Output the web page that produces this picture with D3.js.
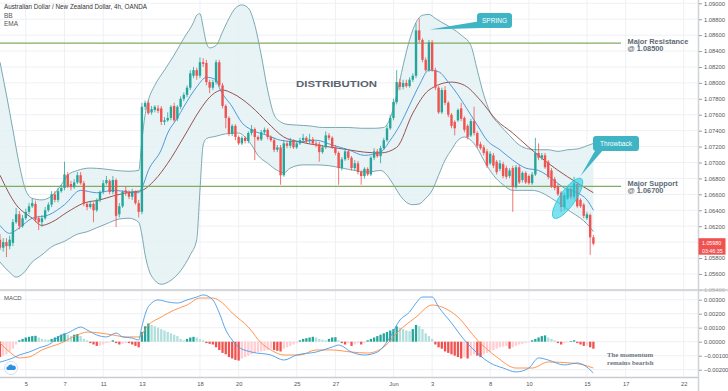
<!DOCTYPE html>
<html><head><meta charset="utf-8">
<script src="https://cdn.jsdelivr.net/npm/d3@7"></script>
<style>body{margin:0;background:#fff}svg{display:block}</style>
</head><body><svg id="c" width="728" height="391"></svg>
<script>
// ---------------- DATA ----------------
const title = "Australian Dollar / New Zealand Dollar, 4h, OANDA";
const xTickIdx = [8,20,32,44,62,74,92,104,122,134,152,164,182,194,212];
const xTickLabels = ["5","7","11","13","18","20","25","27","Jun","3","8","10","15","17","22"];
const priceTicks = [1.090,1.088,1.086,1.084,1.082,1.080,1.078,1.076,1.074,1.072,1.070,1.068,1.066,1.064,1.062,1.060,1.058,1.056,1.054];
const macdTicks = [0.003,0.002,0.001,0,-0.001,-0.002];
const resistance = 1.0850, support = 1.0670;
const lastPrice = 1.0598, countdown = "03:46:35";
// [open, high, low, close]
const candles = [
[1.0603,1.0610,1.0590,1.0593],[1.0593,1.0605,1.0588,1.0600],[1.0600,1.0605,1.0581,1.0595],[1.0595,1.0608,1.0591,1.0603],
[1.0599,1.0629,1.0595,1.0625],[1.0625,1.0643,1.0623,1.0635],[1.0635,1.0639,1.0616,1.0620],[1.0620,1.0634,1.0618,1.0630],
[1.0630,1.0642,1.0628,1.0638],[1.0638,1.0649,1.0635,1.0645],[1.0645,1.0655,1.0643,1.0649],[1.0648,1.0652,1.0625,1.0628],
[1.0630,1.0633,1.0615,1.0625],[1.0625,1.0634,1.0619,1.0630],[1.0630,1.0644,1.0628,1.0640],[1.0640,1.0650,1.0638,1.0647],
[1.0647,1.0664,1.0644,1.0660],[1.0660,1.0664,1.0650,1.0653],[1.0653,1.0668,1.0650,1.0664],[1.0664,1.0672,1.0662,1.0668],
[1.0668,1.0701,1.0665,1.0685],[1.0685,1.0688,1.0668,1.0670],[1.0673,1.0677,1.0665,1.0669],[1.0669,1.0679,1.0667,1.0675],
[1.0675,1.0688,1.0673,1.0684],[1.0684,1.0688,1.0672,1.0674],[1.0674,1.0677,1.0645,1.0648],[1.0648,1.0650,1.0640,1.0644],
[1.0644,1.0652,1.0642,1.0648],[1.0648,1.0650,1.0625,1.0640],[1.0640,1.0655,1.0638,1.0653],[1.0653,1.0665,1.0650,1.0663],
[1.0663,1.0678,1.0660,1.0674],[1.0674,1.0683,1.0672,1.0678],[1.0677,1.0679,1.0660,1.0663],[1.0663,1.0683,1.0660,1.0678],
[1.0678,1.0680,1.0619,1.0633],[1.0635,1.0649,1.0631,1.0645],[1.0645,1.0665,1.0643,1.0663],[1.0665,1.0670,1.0658,1.0662],
[1.0662,1.0665,1.0654,1.0657],[1.0657,1.0667,1.0653,1.0663],[1.0663,1.0665,1.0647,1.0649],[1.0649,1.0653,1.0631,1.0638],
[1.0638,1.0775,1.0635,1.0770],[1.0770,1.0778,1.0766,1.0775],[1.0775,1.0778,1.0760,1.0762],[1.0763,1.0771,1.0760,1.0767],
[1.0766,1.0772,1.0763,1.0770],[1.0768,1.0772,1.0762,1.0765],[1.0768,1.0771,1.0747,1.0751],[1.0751,1.0757,1.0747,1.0753],
[1.0753,1.0763,1.0751,1.0756],[1.0756,1.0772,1.0753,1.0770],[1.0771,1.0775,1.0751,1.0753],[1.0755,1.0772,1.0752,1.0770],
[1.0770,1.0783,1.0767,1.0780],[1.0780,1.0788,1.0777,1.0785],[1.0785,1.0797,1.0782,1.0794],[1.0794,1.0816,1.0791,1.0812],
[1.0809,1.0820,1.0806,1.0816],[1.0816,1.0819,1.0804,1.0809],[1.0809,1.0832,1.0806,1.0826],[1.0826,1.0831,1.0820,1.0824],
[1.0825,1.0829,1.0797,1.0801],[1.0801,1.0804,1.0787,1.0794],[1.0794,1.0804,1.0791,1.0801],[1.0801,1.0829,1.0798,1.0826],
[1.0826,1.0829,1.0795,1.0797],[1.0797,1.0800,1.0768,1.0771],[1.0771,1.0773,1.0743,1.0756],[1.0756,1.0758,1.0733,1.0736],
[1.0736,1.0748,1.0733,1.0746],[1.0746,1.0748,1.0728,1.0732],[1.0732,1.0734,1.0722,1.0724],[1.0724,1.0733,1.0722,1.0731],
[1.0731,1.0733,1.0724,1.0727],[1.0727,1.0739,1.0724,1.0737],[1.0737,1.0747,1.0734,1.0742],[1.0742,1.0744,1.0703,1.0732],
[1.0732,1.0734,1.0727,1.0729],[1.0729,1.0741,1.0727,1.0738],[1.0738,1.0744,1.0736,1.0741],[1.0741,1.0743,1.0729,1.0732],
[1.0732,1.0734,1.0726,1.0728],[1.0728,1.0731,1.0713,1.0716],[1.0716,1.0722,1.0713,1.0719],[1.0719,1.0722,1.0672,1.0684],
[1.0684,1.0728,1.0682,1.0724],[1.0724,1.0727,1.0718,1.0721],[1.0721,1.0731,1.0718,1.0727],[1.0727,1.0729,1.0717,1.0719],
[1.0719,1.0727,1.0717,1.0724],[1.0724,1.0731,1.0722,1.0728],[1.0728,1.0736,1.0726,1.0731],[1.0731,1.0733,1.0724,1.0727],
[1.0727,1.0736,1.0724,1.0729],[1.0729,1.0732,1.0722,1.0724],[1.0724,1.0727,1.0719,1.0722],[1.0723,1.0726,1.0701,1.0713],
[1.0713,1.0722,1.0711,1.0719],[1.0719,1.0739,1.0717,1.0734],[1.0734,1.0737,1.0728,1.0731],[1.0731,1.0733,1.0717,1.0719],
[1.0719,1.0722,1.0709,1.0712],[1.0712,1.0714,1.0672,1.0693],[1.0693,1.0707,1.0690,1.0704],[1.0704,1.0718,1.0702,1.0714],
[1.0714,1.0717,1.0703,1.0706],[1.0706,1.0708,1.0690,1.0693],[1.0693,1.0703,1.0690,1.0699],[1.0699,1.0702,1.0685,1.0688],
[1.0688,1.0690,1.0672,1.0683],[1.0683,1.0694,1.0680,1.0692],[1.0692,1.0694,1.0683,1.0685],[1.0685,1.0708,1.0683,1.0706],
[1.0706,1.0718,1.0703,1.0714],[1.0714,1.0717,1.0706,1.0708],[1.0708,1.0721,1.0699,1.0718],[1.0718,1.0731,1.0716,1.0728],
[1.0728,1.0747,1.0726,1.0743],[1.0743,1.0760,1.0741,1.0756],[1.0756,1.0780,1.0753,1.0776],[1.0776,1.0816,1.0773,1.0801],
[1.0801,1.0805,1.0791,1.0795],[1.0795,1.0804,1.0792,1.0800],[1.0800,1.0804,1.0794,1.0796],[1.0796,1.0807,1.0794,1.0804],
[1.0804,1.0812,1.0801,1.0809],[1.0809,1.0875,1.0806,1.0866],[1.0866,1.0881,1.0851,1.0854],[1.0854,1.0856,1.0826,1.0829],
[1.0829,1.0832,1.0814,1.0816],[1.0816,1.0854,1.0814,1.0851],[1.0851,1.0854,1.0814,1.0816],[1.0816,1.0819,1.0791,1.0794],
[1.0794,1.0796,1.0761,1.0763],[1.0763,1.0794,1.0761,1.0791],[1.0791,1.0796,1.0772,1.0775],[1.0775,1.0777,1.0757,1.0760],
[1.0760,1.0762,1.0743,1.0746],[1.0751,1.0753,1.0734,1.0743],[1.0753,1.0768,1.0751,1.0766],[1.0768,1.0775,1.0752,1.0755],
[1.0756,1.0758,1.0738,1.0741],[1.0746,1.0748,1.0729,1.0732],[1.0734,1.0755,1.0732,1.0752],[1.0752,1.0770,1.0734,1.0737],
[1.0737,1.0739,1.0718,1.0721],[1.0723,1.0726,1.0716,1.0718],[1.0719,1.0722,1.0709,1.0712],[1.0714,1.0717,1.0693,1.0696],
[1.0699,1.0714,1.0697,1.0711],[1.0709,1.0712,1.0693,1.0696],[1.0701,1.0703,1.0685,1.0688],[1.0692,1.0703,1.0689,1.0699],
[1.0698,1.0701,1.0680,1.0683],[1.0693,1.0696,1.0679,1.0682],[1.0683,1.0693,1.0680,1.0690],[1.0693,1.0696,1.0638,1.0669],
[1.0669,1.0697,1.0667,1.0694],[1.0694,1.0697,1.0673,1.0675],[1.0678,1.0689,1.0675,1.0687],[1.0687,1.0689,1.0673,1.0675],
[1.0683,1.0685,1.0672,1.0674],[1.0674,1.0688,1.0672,1.0685],[1.0685,1.0731,1.0683,1.0712],[1.0712,1.0724,1.0703,1.0706],
[1.0706,1.0712,1.0703,1.0709],[1.0709,1.0712,1.0692,1.0694],[1.0701,1.0703,1.0679,1.0682],[1.0690,1.0693,1.0668,1.0670],
[1.0679,1.0682,1.0665,1.0668],[1.0670,1.0673,1.0658,1.0660],[1.0662,1.0664,1.0638,1.0644],[1.0644,1.0662,1.0640,1.0659],
[1.0655,1.0669,1.0653,1.0667],[1.0667,1.0669,1.0654,1.0657],[1.0657,1.0682,1.0654,1.0674],[1.0673,1.0675,1.0643,1.0645],
[1.0653,1.0655,1.0643,1.0645],[1.0647,1.0649,1.0630,1.0633],[1.0630,1.0638,1.0628,1.0635],[1.0634,1.0636,1.0584,1.0606],
[1.0606,1.0609,1.0596,1.0598]
];
// [bar index, price]
const bbUpper = [[0,1.0826],[2,1.0785],[4,1.0741],[6,1.0697],[8,1.0665],[10,1.0655],[13,1.0653],[16,1.0658],[19,1.0672],[21,1.0684],[24,1.0690],[28,1.0693],[32,1.0692],[36,1.0690],[40,1.0689],[43,1.0690],[44,1.0728],[45,1.0760],[46,1.0778],[48,1.0797],[51,1.0816],[54,1.0835],[57,1.0856],[60,1.0876],[61,1.0885],[62,1.0887],[63,1.0870],[64,1.0850],[65,1.0844],[67,1.0847],[69,1.0864],[71,1.0881],[73,1.0894],[75,1.0898],[77,1.0894],[79,1.0873],[81,1.0835],[83,1.0791],[85,1.0760],[87,1.0751],[89,1.0748],[92,1.0747],[96,1.0746],[100,1.0744],[104,1.0744],[108,1.0744],[112,1.0743],[116,1.0743],[119,1.0744],[121,1.0756],[123,1.0785],[125,1.0822],[127,1.0854],[129,1.0876],[131,1.0885],[133,1.0886],[135,1.0881],[137,1.0876],[140,1.0869],[143,1.0860],[146,1.0847],[148,1.0816],[150,1.0785],[152,1.0763],[155,1.0747],[158,1.0734],[161,1.0722],[164,1.0717],[167,1.0716],[170,1.0716],[173,1.0714],[176,1.0716],[179,1.0717],[182,1.0721],[184,1.0724]];
const bbLower = [[0,1.0575],[3,1.0562],[5,1.0556],[7,1.0560],[10,1.0575],[13,1.0584],[16,1.0594],[20,1.0601],[24,1.0610],[27,1.0613],[30,1.0618],[33,1.0623],[37,1.0629],[40,1.0630],[43,1.0625],[44,1.0609],[45,1.0584],[46,1.0567],[48,1.0552],[50,1.0547],[53,1.0552],[56,1.0564],[59,1.0584],[61,1.0603],[62,1.0665],[63,1.0722],[64,1.0730],[67,1.0733],[70,1.0736],[74,1.0737],[76,1.0732],[78,1.0722],[80,1.0709],[83,1.0699],[86,1.0690],[88,1.0687],[90,1.0693],[94,1.0697],[98,1.0697],[102,1.0696],[106,1.0693],[110,1.0690],[114,1.0688],[118,1.0690],[120,1.0684],[122,1.0672],[124,1.0659],[126,1.0650],[128,1.0647],[130,1.0648],[132,1.0655],[134,1.0665],[136,1.0684],[138,1.0703],[140,1.0716],[142,1.0728],[144,1.0732],[146,1.0728],[148,1.0718],[150,1.0703],[153,1.0684],[156,1.0672],[159,1.0665],[162,1.0665],[165,1.0665],[168,1.0662],[171,1.0655],[174,1.0647],[177,1.0638],[180,1.0630],[182,1.0623],[184,1.0613]];
const bbBasis = [[0,1.0621],[3,1.0611],[6,1.0618],[10,1.0630],[15,1.0634],[20,1.0647],[25,1.0665],[30,1.0662],[35,1.0665],[40,1.0663],[43,1.0662],[44,1.0668],[46,1.0690],[50,1.0716],[52,1.0737],[55,1.0756],[57,1.0770],[61,1.0795],[64,1.0807],[67,1.0804],[68,1.0794],[72,1.0770],[75,1.0750],[78,1.0741],[83,1.0734],[87,1.0728],[93,1.0726],[98,1.0728],[103,1.0722],[108,1.0716],[113,1.0709],[118,1.0713],[121,1.0728],[124,1.0747],[127,1.0772],[130,1.0797],[133,1.0816],[136,1.0814],[139,1.0801],[142,1.0785],[145,1.0766],[148,1.0747],[151,1.0728],[155,1.0716],[159,1.0703],[163,1.0693],[167,1.0690],[171,1.0680],[175,1.0668],[179,1.0662],[182,1.0653],[184,1.0640]];
const ema = [[0,1.0684],[5,1.0647],[10,1.0630],[13,1.0621],[16,1.0625],[21,1.0638],[26,1.0649],[31,1.0653],[36,1.0659],[41,1.0663],[44,1.0665],[48,1.0678],[52,1.0699],[57,1.0732],[62,1.0766],[65,1.0782],[69,1.0791],[72,1.0787],[78,1.0770],[83,1.0750],[88,1.0732],[93,1.0726],[103,1.0719],[108,1.0716],[113,1.0713],[118,1.0712],[123,1.0719],[128,1.0762],[133,1.0791],[140,1.0801],[144,1.0797],[149,1.0778],[154,1.0753],[159,1.0737],[164,1.0719],[170,1.0699],[176,1.0682],[184,1.0662]];
const macdLine = [[0,-0.00146],[4,-0.00116],[6,-0.00095],[9,-0.00074],[12,-0.00045],[16,-0.00009],[18,0.00034],[21,0.00062],[24,0.00098],[25,0.00105],[27,0.00084],[30,0.00048],[33,0.00034],[36,0.00062],[38,0.00034],[41,0.00026],[43,0.00012],[44,0.0011],[46,0.0025],[49,0.00298],[52,0.00284],[55,0.00276],[58,0.00298],[61,0.00319],[63,0.00334],[66,0.00298],[68,0.00205],[70,0.00084],[72,0.00012],[74,-0.00038],[78,-0.00074],[84,-0.00095],[88,-0.00131],[92,-0.00095],[98,-0.00074],[103,-0.00038],[105,-0.00024],[109,-0.00074],[113,-0.00095],[117,-0.00074],[121,0.00034],[124,0.00155],[127,0.00212],[129,0.00276],[131,0.00319],[134,0.00319],[136,0.00248],[140,0.00134],[144,0.00012],[148,-0.00081],[152,-0.00152],[156,-0.00188],[160,-0.00216],[164,-0.00188],[167,-0.00116],[170,-0.00131],[175,-0.00166],[179,-0.00152],[181,-0.00166],[184,-0.00224]];
const signalLine = [[0,-0.00009],[3,-0.00074],[6,-0.00116],[9,-0.00109],[13,-0.00059],[19,-0.00009],[24,0.00048],[27,0.00069],[31,0.00062],[35,0.00048],[39,0.00034],[43,0.00034],[46,0.0012],[50,0.00176],[54,0.00226],[58,0.00262],[62,0.00312],[66,0.00312],[69,0.00276],[72,0.00205],[77,0.00105],[81,-0.00009],[84,-0.00059],[88,-0.00095],[93,-0.00095],[98,-0.00059],[103,-0.00059],[109,-0.00074],[114,-0.00081],[119,-0.00038],[124,0.00084],[129,0.00176],[134,0.00262],[137,0.00248],[142,0.00176],[148,0.00012],[154,-0.00109],[160,-0.00188],[165,-0.00188],[170,-0.00145],[177,-0.00152],[181,-0.00166],[184,-0.00188]];
const hist = [-0.0011,-0.0010,-0.0009,-0.0007,-0.0005,-0.0002,
0.0001,0.0002,0.0003,0.00035,0.0004,0.00042,
0.0003,0.0002,0.00015,0.00014,
0.0002,0.0003,0.0004,0.0005,0.0006,0.0005,0.0004,0.0005,0.00055,
0.0004,0.0002,0.0001,
-0.0001,-0.0002,-0.0003,-0.00028,-0.0002,-0.0001,-0.00005,
0.0001,
-0.0001,-0.0002,-0.00015,-0.0001,-0.0001,-0.0002,-0.0003,-0.0004,
0.0007,0.0011,0.0013,0.0012,0.0011,
0.0010,0.0009,0.0008,0.0007,0.0006,0.0005,0.0004,0.0002,
0.0001,0.0002,0.0003,0.00035,0.0003,0.0002,0.0001,
-0.0001,-0.00015,
-0.0002,-0.0004,-0.0006,-0.0008,-0.0009,-0.0011,-0.0012,-0.0013,-0.00135,
-0.0012,-0.0011,-0.0010,-0.0009,-0.0008,-0.00075,-0.0007,-0.00065,-0.0006,-0.0005,
-0.0006,-0.00065,-0.0007,
-0.0005,-0.0004,-0.0003,-0.0002,-0.0001,
0.0001,0.0002,0.00025,0.0003,0.00035,
0.0003,0.0002,0.00015,0.0001,
0.0002,0.0003,0.00032,
0.0001,
-0.0001,-0.0002,-0.0001,-0.0003,-0.0002,-0.0001,-0.0002,-0.0001,
0.0001,0.0002,0.0003,0.0004,0.0005,0.0006,0.0007,0.0008,
0.0009,0.0011,
0.0010,0.0009,0.0008,0.00075,
0.0009,0.0012,0.0011,
0.0009,0.0006,0.0004,0.0002,
-0.0002,-0.0004,-0.0005,-0.0007,-0.0008,-0.0009,-0.0010,-0.0011,-0.0012,
-0.0011,-0.0012,
-0.0010,-0.0009,-0.0010,-0.0011,-0.0009,-0.0008,
-0.0007,-0.0006,-0.0005,-0.0004,-0.00035,-0.0003,-0.0005,
-0.0004,-0.0003,-0.0002,-0.00015,-0.0001,-0.00005,
0.0001,0.0002,0.0003,0.0004,0.00045,
0.0003,0.0002,0.0001,
-0.0001,-0.0002,-0.0001,
-0.00005,0.00005,0.0001,
-0.0001,-0.0002,-0.0003,-0.00028,-0.0004,-0.0005];

// ---------------- DRAW ----------------
const svg = d3.select("#c");
const plotR = 698, mainB = 289, macdT = 291, macdB = 377;
const x = d3.scaleLinear().domain([0,212]).range([0,683.7]);
const y = d3.scaleLinear().domain([1.090,1.056]).range([3.3,273.94]);
const ym = d3.scaleLinear().domain([0.003,-0.002]).range([299.7,369.7]);
const FONT = "'Liberation Sans', Arial, sans-serif";

svg.append("rect").attr("width",728).attr("height",391).attr("fill","#fff");
const defs = svg.append("defs");
defs.append("clipPath").attr("id","cm").append("rect").attr("x",0).attr("y",0).attr("width",plotR).attr("height",mainB);
defs.append("clipPath").attr("id","cd").append("rect").attr("x",0).attr("y",macdT).attr("width",plotR).attr("height",macdB-macdT);

// grid
const grid = svg.append("g").attr("stroke","#eef0f4").attr("stroke-width",1);
xTickIdx.forEach(i=>grid.append("line").attr("x1",x(i)).attr("x2",x(i)).attr("y1",0).attr("y2",macdB));
priceTicks.forEach(p=>grid.append("line").attr("x1",0).attr("x2",plotR).attr("y1",y(p)).attr("y2",y(p)).attr("clip-path","url(#cm)"));
macdTicks.forEach(v=>grid.append("line").attr("x1",0).attr("x2",plotR).attr("y1",ym(v)).attr("y2",ym(v)));

const main = svg.append("g").attr("clip-path","url(#cm)");
const lineP = d3.line().x(d=>x(d[0])).y(d=>y(d[1])).curve(d3.curveMonotoneX);
const upPath = lineP(bbUpper);
const loPath = lineP(bbLower.slice().reverse());
main.append("path").attr("d", upPath + "L" + loPath.substring(1) + "Z").attr("fill","#e4f1f4").attr("opacity",0.85);
main.append("path").attr("d", upPath).attr("fill","none").attr("stroke","#6d9faa").attr("stroke-width",0.9);
main.append("path").attr("d", lineP(bbLower)).attr("fill","none").attr("stroke","#6d9faa").attr("stroke-width",0.9);
main.append("path").attr("d", lineP(ema)).attr("fill","none").attr("stroke","#8d3f3f").attr("stroke-width",0.9);
main.append("path").attr("d", lineP(bbBasis)).attr("fill","none").attr("stroke","#3f8fd8").attr("stroke-width",0.9);

// support / resistance
[resistance, support].forEach(p=>main.append("line").attr("x1",0).attr("x2",621).attr("y1",y(p)).attr("y2",y(p)).attr("stroke","#84ab63").attr("stroke-width",1.4));

// candles
const up="#26a69a", dn="#ef5350";
const cg = main.append("g");
candles.forEach((c,i)=>{
  const [o,h,l,cl]=c; const col = cl>=o?up:dn; const cx=x(i);
  cg.append("line").attr("x1",cx).attr("x2",cx).attr("y1",y(h)).attr("y2",y(l)).attr("stroke",col).attr("stroke-width",0.8);
  const top=y(Math.max(o,cl)), bot=y(Math.min(o,cl));
  cg.append("rect").attr("x",cx-1.2).attr("width",2.4).attr("y",top).attr("height",Math.max(0.8,bot-top)).attr("fill",col);
});

// ellipse throwback zone
main.append("ellipse").attr("cx",x(176)).attr("cy",y(1.0655)).attr("rx",24).attr("ry",7.8)
  .attr("transform",`rotate(-55 ${x(176)} ${y(1.0655)})`).attr("fill","rgba(38,206,228,0.6)").attr("stroke","#2fc6dc").attr("stroke-width",0.8);

// annotations
main.append("text").attr("x",296).attr("y",87).attr("font-family",FONT).attr("font-weight","bold").attr("font-size",9.5)
  .attr("fill","#5a6470").attr("textLength",81).attr("lengthAdjust","spacingAndGlyphs").text("DISTRIBUTION");
const lab = (t,xx,yy)=>svg.append("text").attr("x",xx).attr("y",yy).attr("font-family",FONT).attr("font-weight","bold").attr("font-size",7.4).attr("fill","#5d6975").text(t);
lab("Major Resistance",627.5,y(resistance)+0.5); lab("@ 1.08500",627.5,y(resistance)+8);
lab("Major Support",627.5,y(support)-0.5); lab("@ 1.06700",627.5,y(support)+7);

const call = "#3fb4c5";
main.append("path").attr("d",`M478,21.5 L481,28 L${x(133.2)},29.5 Z`).attr("fill",call);
main.append("rect").attr("x",477).attr("y",13).attr("width",35).attr("height",15).attr("rx",3).attr("fill",call);
main.append("text").attr("x",494.5).attr("y",23.3).attr("text-anchor","middle").attr("font-family",FONT).attr("font-size",6.5).attr("fill","#fff").text("SPRING");
main.append("path").attr("d",`M596,149 L604,149 L${x(180)},176 Z`).attr("fill",call);
main.append("rect").attr("x",593).attr("y",136).attr("width",46).attr("height",15).attr("rx",3).attr("fill",call);
main.append("text").attr("x",616).attr("y",146.3).attr("text-anchor","middle").attr("font-family",FONT).attr("font-size",6.5).attr("fill","#fff").text("Throwback");

// MACD pane
const md = svg.append("g").attr("clip-path","url(#cd)");
hist.forEach((v,i)=>{
  const prev = i>0?hist[i-1]:v;
  let col;
  if(v>=0) col = v>=prev ? "#26a69a" : "#b2dfdb";
  else col = v<=prev ? "#ef5350" : "#ffcdd2";
  const y0=ym(0), y1=ym(v);
  md.append("rect").attr("x",x(i)-1.15).attr("width",2.3).attr("y",Math.min(y0,y1)).attr("height",Math.max(0.6,Math.abs(y1-y0))).attr("fill",col);
});
const lineM = d3.line().x(d=>x(d[0])).y(d=>ym(d[1])).curve(d3.curveMonotoneX);
md.append("path").attr("d",lineM(signalLine)).attr("fill","none").attr("stroke","#ff8a3d").attr("stroke-width",0.9);
md.append("path").attr("d",lineM(macdLine)).attr("fill","none").attr("stroke","#4a9be8").attr("stroke-width",0.9);

const serif = "'Liberation Serif', serif";
svg.append("text").attr("x",607).attr("y",357).attr("font-family",serif).attr("font-weight","bold").attr("font-size",6.8).attr("fill","#6b7784").text("The momentum");
svg.append("text").attr("x",607).attr("y",365).attr("font-family",serif).attr("font-weight","bold").attr("font-size",6.8).attr("fill","#6b7784").text("remains bearish");

// separators / borders
svg.append("rect").attr("x",0).attr("y",mainB).attr("width",728).attr("height",2.2).attr("fill","#d6d8dc");
svg.append("line").attr("x1",plotR+0.5).attr("x2",plotR+0.5).attr("y1",0).attr("y2",391).attr("stroke","#d0d3d8").attr("stroke-width",1.5);
svg.append("line").attr("x1",0).attr("x2",plotR).attr("y1",macdB+0.5).attr("y2",macdB+0.5).attr("stroke","#c9ccd1").attr("stroke-width",1.5);

// axes
const ax = svg.append("g").attr("transform",`translate(${plotR+1},0)`)
  .call(d3.axisRight(y).tickValues(priceTicks).tickFormat(d3.format(".5f")).tickSize(3).tickPadding(2));
ax.select(".domain").remove();
ax.selectAll("line").attr("stroke","#9aa0a8");
ax.selectAll("text").attr("font-family",FONT).attr("font-size",5.8).attr("fill","#555");
ax.selectAll(".tick").filter(d=>y(d)>mainB-2).attr("opacity",0.35);
// the tick label hidden behind the last-price marker
ax.selectAll(".tick").filter(d=>Math.abs(y(d)-y(lastPrice))<9).select("text").remove();
const axm = svg.append("g").attr("transform",`translate(${plotR+1},0)`)
  .call(d3.axisRight(ym).tickValues(macdTicks).tickFormat(d3.format(".5f")).tickSize(3).tickPadding(2));
axm.select(".domain").remove();
axm.selectAll("line").attr("stroke","#9aa0a8");
axm.selectAll("text").attr("font-family",FONT).attr("font-size",5.8).attr("fill","#555").text(d=>d3.format(".5f")(d).replace("-","\u2212"));
const axb = svg.append("g").attr("transform",`translate(0,${macdB+1})`)
  .call(d3.axisBottom(x).tickValues(xTickIdx).tickFormat((d,i)=>xTickLabels[i]).tickSize(0).tickPadding(4));
axb.select(".domain").remove();
axb.selectAll("text").attr("font-family",FONT).attr("font-size",5.8).attr("fill","#555");

// last price label
svg.append("rect").attr("x",plotR+0.5).attr("y",y(lastPrice)-5.5).attr("width",27).attr("height",16.5).attr("fill","#ef5350");
svg.append("text").attr("x",plotR+4).attr("y",y(lastPrice)+1.5).attr("font-family",FONT).attr("font-size",5.3).attr("fill","#fff").text(d3.format(".5f")(lastPrice));
svg.append("text").attr("x",plotR+4).attr("y",y(lastPrice)+9).attr("font-family",FONT).attr("font-size",5.3).attr("fill","#fff").text(countdown);

// titles
svg.append("text").attr("x",4).attr("y",9).attr("font-family",FONT).attr("font-size",6.8).attr("fill","#333").attr("textLength",143).attr("lengthAdjust","spacingAndGlyphs").text(title);
svg.append("text").attr("x",4).attr("y",17.5).attr("font-family",FONT).attr("font-size",6.5).attr("fill","#555").text("BB");
svg.append("text").attr("x",4).attr("y",26).attr("font-family",FONT).attr("font-size",6.5).attr("fill","#555").text("EMA");
svg.append("text").attr("x",4).attr("y",300).attr("font-family",FONT).attr("font-size",6).attr("fill","#555").text("MACD");

// logo
svg.append("circle").attr("cx",11).attr("cy",368).attr("r",6.5).attr("fill","#fff").attr("stroke","#cfe0f3").attr("stroke-width",1);
svg.append("path").attr("d","M7.5,370 a1.8,1.8 0 0 1 0.6,-3.5 a2.5,2.5 0 0 1 4.6,-0.8 a1.9,1.9 0 0 1 1.8,4.3 Z").attr("fill","#2d8fe0");
</script></body></html>
